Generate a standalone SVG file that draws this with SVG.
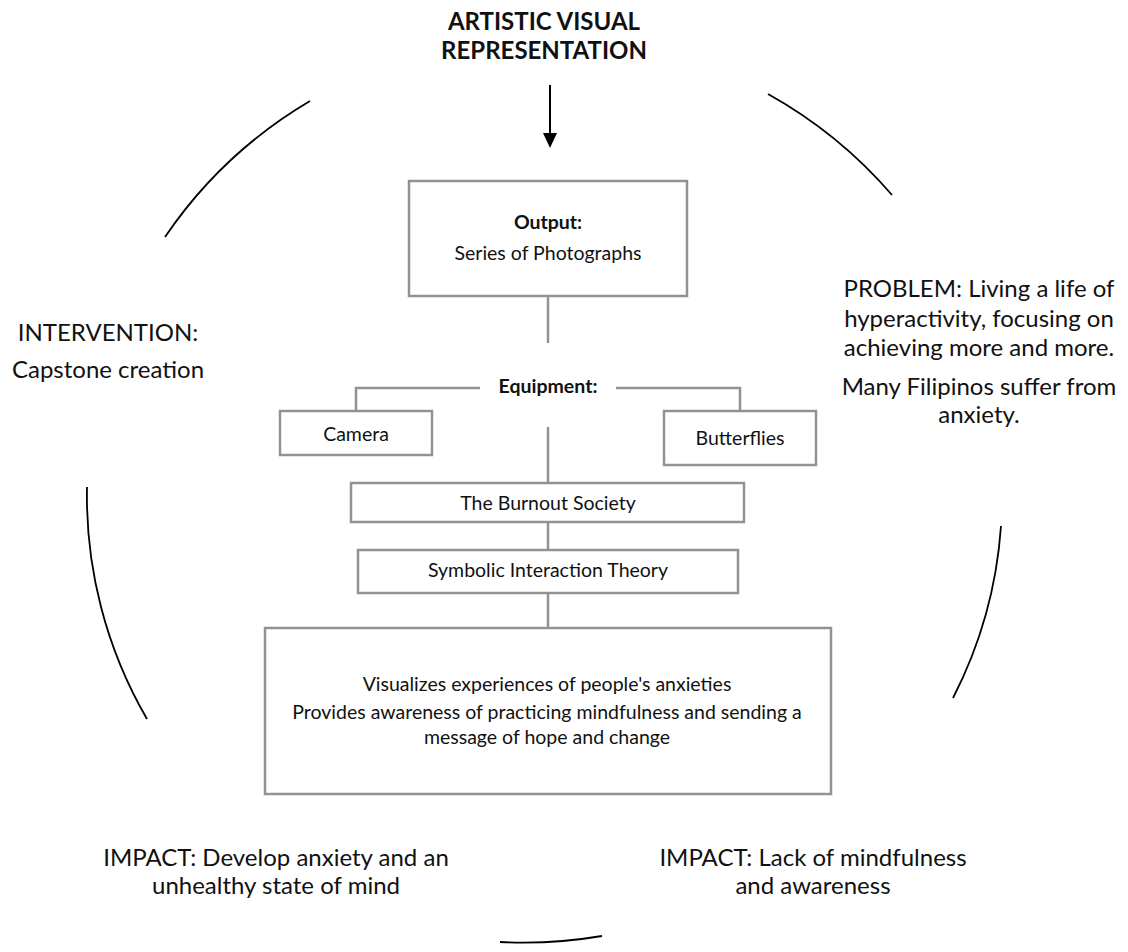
<svg xmlns="http://www.w3.org/2000/svg" width="1128" height="952" viewBox="0 0 1128 952">
<style>
  text { font-family: Lato, "Open Sans", "Liberation Sans", sans-serif; fill: #111; text-anchor: middle; }
  .title { font-size: 24px; font-weight: bold; }
  .box { fill: #fff; stroke: #929292; stroke-width: 2.5; }
  .bt { font-size: 19.5px; }
  .bb { font-size: 19.5px; font-weight: bold; }
  .side { font-size: 24px; }
  .conn { stroke: #929292; stroke-width: 2.5; fill: none; }
  .arc { stroke: #000; stroke-width: 1.8; fill: none; }
</style>
<rect width="1128" height="952" fill="#fff"/>

<g id="arcs">
  <path class="arc" d="M165,237 A458,450 0 0 1 310,101"/>
  <path class="arc" d="M768,94 A458,450 0 0 1 892,195"/>
  <path class="arc" d="M1001,526 A458,450 0 0 1 953,698"/>
  <path class="arc" d="M602,936 A458,450 0 0 1 500,942"/>
  <path class="arc" d="M147,719 A458,450 0 0 1 87,487"/>
</g>

<g id="title">
  <text class="title" x="544" y="30">ARTISTIC VISUAL</text>
  <text class="title" x="544" y="59">REPRESENTATION</text>
</g>

<g id="connectors">
  <line x1="550" y1="85" x2="550" y2="136" stroke="#000" stroke-width="2"/>
  <polygon points="543,133 557,133 550,148" fill="#000"/>
  <line class="conn" x1="548" y1="296" x2="548" y2="343"/>
  <polyline class="conn" points="356,411 356,388 480,388"/>
  <polyline class="conn" points="616,388 740,388 740,411"/>
  <line class="conn" x1="548" y1="427" x2="548" y2="483"/>
  <line class="conn" x1="548" y1="522" x2="548" y2="550"/>
  <line class="conn" x1="548" y1="593" x2="548" y2="628"/>
</g>

<g id="output">
  <rect class="box" x="409" y="181" width="278" height="115"/>
  <text class="bb" x="548" y="229">Output:</text>
  <text class="bt" x="548" y="260">Series of Photographs</text>
</g>

<g id="equipment">
  <text class="bb" x="548" y="393">Equipment:</text>
</g>

<g id="camera">
  <rect class="box" x="280" y="411" width="152" height="44"/>
  <text class="bt" x="356" y="441">Camera</text>
</g>

<g id="butterflies">
  <rect class="box" x="664" y="411" width="152" height="54"/>
  <text class="bt" x="740" y="445">Butterflies</text>
</g>

<g id="burnout">
  <rect class="box" x="351" y="483" width="393" height="39"/>
  <text class="bt" x="548" y="510">The Burnout Society</text>
</g>

<g id="symbolic">
  <rect class="box" x="358" y="550" width="380" height="43"/>
  <text class="bt" x="548" y="577">Symbolic Interaction Theory</text>
</g>

<g id="result">
  <rect class="box" x="265" y="628" width="566" height="166"/>
  <text class="bt" x="547" y="691">Visualizes experiences of people's anxieties</text>
  <text class="bt" x="547" y="719">Provides awareness of practicing mindfulness and sending a</text>
  <text class="bt" x="547" y="744">message of hope and change</text>
</g>

<g id="intervention">
  <text class="side" x="108" y="341">INTERVENTION:</text>
  <text class="side" x="108" y="378">Capstone creation</text>
</g>

<g id="problem">
  <text class="side" x="979" y="297">PROBLEM: Living a life of</text>
  <text class="side" x="979" y="327">hyperactivity, focusing on</text>
  <text class="side" x="979" y="356">achieving more and more.</text>
  <text class="side" x="979" y="395">Many Filipinos suffer from</text>
  <text class="side" x="979" y="423">anxiety.</text>
</g>

<g id="impact-left">
  <text class="side" x="276" y="866">IMPACT: Develop anxiety and an</text>
  <text class="side" x="276" y="894">unhealthy state of mind</text>
</g>

<g id="impact-right">
  <text class="side" x="813" y="866">IMPACT: Lack of mindfulness</text>
  <text class="side" x="813" y="894">and awareness</text>
</g>
</svg>
